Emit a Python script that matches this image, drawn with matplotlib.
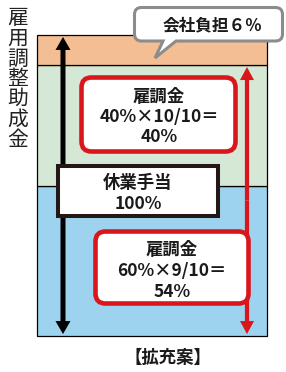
import matplotlib
matplotlib.use("Agg")
import matplotlib.pyplot as plt
from matplotlib.patches import FancyBboxPatch, PathPatch, FancyArrowPatch
from matplotlib.path import Path
from matplotlib.transforms import blended_transform_factory

# ---- data ----
segment_names = ["雇調金（60%×9/10）", "雇調金（40%×10/10）", "会社負担"]
segment_heights = [50, 40, 10]          # shares of the bar as drawn in the picture
segment_colors = ["#9DD3EE", "#D5E8D5", "#F3BE93"]
side_label = "雇用調整助成金"
callout_label = "会社負担６％"
leave_lines = ["休業手当", "100%"]
box1_lines = ["雇調金", "40%×10/10＝", "40%"]
box2_lines = ["雇調金", "60%×9/10＝", "54%"]
bottom_label = "【拡充案】"

plt.rcParams['font.family'] = ['Noto Sans CJK JP', 'DejaVu Sans']

W, H = 286, 372
fig = plt.figure(figsize=(W / 100, H / 100), dpi=100)
fig.patch.set_facecolor("white")

# bar axes
ax = fig.add_axes([37 / W, (H - 336) / H, 230 / W, 301 / H])
ax.set_xlim(0, 1)
ax.set_ylim(0, sum(segment_heights))
ax.axis("off")
bottom = 0
for h, c in zip(segment_heights, segment_colors):
    ax.bar(0, h, bottom=bottom, width=1, align="edge", color=c,
           edgecolor="black", linewidth=0.9, clip_on=False)
    bottom += h

# overlay axes in pixel coords
ov = fig.add_axes([0, 0, 1, 1])
ov.set_xlim(0, W)
ov.set_ylim(H, 0)
ov.axis("off")
ov.patch.set_alpha(0)

px = 72 / 100  # mutation scale -> 1 pixel
btr = blended_transform_factory(ax.transAxes, ax.transData)


def double_arrow(x, y0, y1, color, tail, hw, hl, z):
    mid = (y0 + y1) / 2
    for end in (y0, y1):
        a = FancyArrowPatch((x, mid), (x, end),
                            arrowstyle=f"simple,head_length={hl},head_width={hw},tail_width={tail}",
                            mutation_scale=px, color=color, lw=0,
                            shrinkA=0, shrinkB=1.4, transform=btr, zorder=z)
        ov.add_patch(a)


total = sum(segment_heights)
double_arrow(0.113, 0, total, "black", 5, 15, 13, 2)
double_arrow(0.913, 0, segment_heights[0] + segment_heights[1], "#D9161C", 4.2, 14, 13, 2)

red = "#D9161C"
# white box
ov.add_patch(FancyBboxPatch((58, 166), 160, 50, boxstyle="square,pad=0",
                            fc="white", ec="#231815", lw=2.9, zorder=4))
# red boxes
ov.add_patch(FancyBboxPatch((81.5, 77.5), 154, 74, boxstyle="round,pad=0,rounding_size=10",
                            fc="white", ec=red, lw=3.3, zorder=3))
ov.add_patch(FancyBboxPatch((95.5, 231.5), 153, 72, boxstyle="round,pad=0,rounding_size=10",
                            fc="white", ec=red, lw=3.3, zorder=3))

# callout with tail
x0, x1, y0, y1, r = 134.5, 282.5, 7.5, 41, 7
verts = [(x0 + r, y0), (x1 - r, y0), (x1, y0), (x1, y0 + r), (x1, y1 - r), (x1, y1), (x1 - r, y1),
         (176, y1), (155, 58), (163, y1), (x0 + r, y1), (x0, y1), (x0, y1 - r), (x0, y0 + r),
         (x0, y0), (x0 + r, y0), (x0 + r, y0)]
codes = [Path.MOVETO, Path.LINETO, Path.CURVE3, Path.CURVE3, Path.LINETO, Path.CURVE3, Path.CURVE3,
         Path.LINETO, Path.LINETO, Path.LINETO, Path.LINETO, Path.CURVE3, Path.CURVE3, Path.LINETO,
         Path.CURVE3, Path.CURVE3, Path.CLOSEPOLY]
ov.add_patch(PathPatch(Path(verts, codes), fc="white", ec="#8C8C8C", lw=2.2, zorder=5))

bold = dict(fontweight="bold", ha="center", va="center", color="#1a1a1a")
ov.text(212, 25, callout_label, fontsize=12, zorder=6, **bold)
for yy, t in zip([183, 204], leave_lines):
    ov.text(138, yy, t, fontsize=12.5, zorder=6, **bold)
for yy, t in zip([97, 117, 137], box1_lines):
    ov.text(159, yy, t, fontsize=12.5, zorder=6, **bold)
for yy, t in zip([250, 271, 292], box2_lines):
    ov.text(172, yy, t, fontsize=12.5, zorder=6, **bold)
ov.text(168, 358, bottom_label, fontsize=12.5, zorder=6, **bold)

for i, ch in enumerate(side_label):
    ov.text(18, 18 + i * 20.3, ch, fontsize=15, ha="center", va="center", color="#222222")

fig.savefig("out.png", dpi=100)
